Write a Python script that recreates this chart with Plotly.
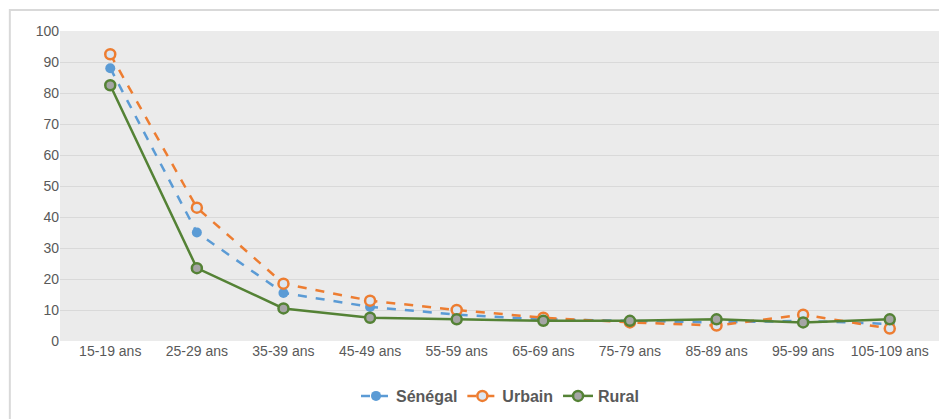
import plotly.graph_objects as go

ages = ["15-19 ans", "25-29 ans", "35-39 ans", "45-49 ans", "55-59 ans",
        "65-69 ans", "75-79 ans", "85-89 ans", "95-99 ans", "105-109 ans"]
senegal = [88, 35, 15.5, 11, 8.5, 7, 6.5, 6, 6.5, 5.5]
urbain = [92.5, 43, 18.5, 13, 10, 7.5, 6, 5, 8.5, 4]
rural = [82.5, 23.5, 10.5, 7.5, 7, 6.5, 6.5, 7, 6, 7]

fig = go.Figure()
fig.add_trace(go.Scatter(x=ages, y=senegal, name="Sénégal", mode="lines+markers",
    line=dict(color="#5b9bd5", width=2.5, dash="dash"),
    marker=dict(size=10, color="#5b9bd5")))
fig.add_trace(go.Scatter(x=ages, y=urbain, name="Urbain", mode="lines+markers",
    line=dict(color="#ed7d31", width=2.5, dash="dash"),
    marker=dict(size=10, color="#dbe6f2", line=dict(color="#ed7d31", width=2.5))))
fig.add_trace(go.Scatter(x=ages, y=rural, name="Rural", mode="lines+markers",
    line=dict(color="#548235", width=2.5),
    marker=dict(size=10, color="#a5a5a5", line=dict(color="#548235", width=2.5))))

fig.update_xaxes(showgrid=False, showline=False, ticks="", automargin=False,
                 tickfont=dict(size=14, color="#595959"))
fig.update_yaxes(range=[0, 100], dtick=10, gridcolor="#d9d9d9", zeroline=False, automargin=False,
                 tickfont=dict(size=14, color="#595959"))
fig.update_layout(
    width=947, height=419,
    margin=dict(l=52, r=15, t=23, b=86),
    paper_bgcolor="white", plot_bgcolor="#ebebeb",
    font=dict(family="Liberation Sans, Arial", color="#595959"),
    legend=dict(orientation="h", x=0.5, xanchor="center", yref="container", y=0.074,
                yanchor="middle", bgcolor="rgba(0,0,0,0)",
                font=dict(size=16, color="#595959", weight="bold")),
    shapes=[dict(type="rect", xref="paper", yref="paper", x0=-0.057, x1=1.015,
                 y0=-0.271, y1=1.068, line=dict(color="#d9d9d9", width=2))],
)
fig.write_html("out.html")
